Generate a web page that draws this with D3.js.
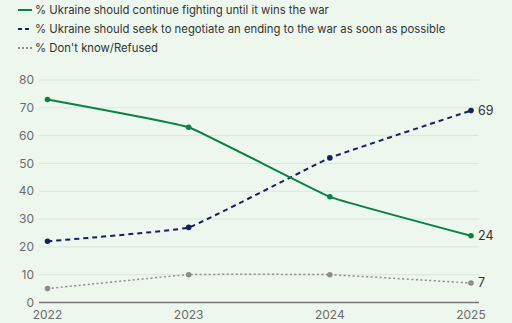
<!DOCTYPE html>
<html>
<head>
<meta charset="utf-8">
<script src="https://cdn.jsdelivr.net/npm/d3@7"></script>
<style>
  body { margin: 0; background: #edf7ee; }
  svg { display: block; font-family: Inter, "Noto Sans", sans-serif; }
</style>
</head>
<body>
<div id="chart"></div>
<script>
const years = [2022, 2023, 2024, 2025];
const continueFighting = [73, 63, 38, 24];
const negotiate = [22, 27, 52, 69];
const dontKnow = [5, 10, 10, 7];
const yTicks = [0, 10, 20, 30, 40, 50, 60, 70, 80];

const series = [
  {name: "% Ukraine should continue fighting until it wins the war", values: continueFighting, color: "#0b8145", dash: null, width: 2},
  {name: "% Ukraine should seek to negotiate an ending to the war as soon as possible", values: negotiate, color: "#15205e", dash: "5,4", width: 2},
  {name: "% Don't know/Refused", values: dontKnow, color: "#8c8c8c", dash: "2,2.5", width: 1.5}
];

const width = 512, height = 323;
const svg = d3.select("#chart")
    .append("svg")
    .attr("width", width)
    .attr("height", height);

const x = d3.scalePoint()
    .domain(years)
    .range([47.5, 471]);

const y = d3.scaleLinear()
    .domain([0, 80])
    .range([302.5, 80]);

// gridlines
svg.append("g")
    .selectAll("line")
    .data(yTicks.filter(d => d > 0))
    .join("line")
    .attr("x1", 39).attr("x2", 479)
    .attr("y1", d => y(d)).attr("y2", d => y(d))
    .attr("stroke", "#d9e5dc")
    .attr("stroke-width", 1);

// baseline
svg.append("line")
    .attr("x1", 39).attr("x2", 479)
    .attr("y1", y(0)).attr("y2", y(0))
    .attr("stroke", "#777")
    .attr("stroke-width", 1.5);

// y labels
svg.append("g")
    .selectAll("text")
    .data(yTicks)
    .join("text")
    .attr("x", 34)
    .attr("y", d => y(d))
    .attr("dy", "0.35em")
    .attr("text-anchor", "end")
    .attr("fill", "#6b6b6b")
    .style("font-size", "12px")
    .text(d => d);

// x labels
svg.append("g")
    .selectAll("text")
    .data(years)
    .join("text")
    .attr("x", d => x(d))
    .attr("y", 315)
    .attr("dy", "0.35em")
    .attr("text-anchor", "middle")
    .attr("fill", "#6b6b6b")
    .style("font-size", "12px")
    .text(d => d);

const line = d3.line()
    .x((d, i) => x(years[i]))
    .y(d => y(d))
    .curve(d3.curveCardinal.tension(0.75));

// draw back to front
series.slice().reverse().forEach(s => {
  svg.append("path")
      .datum(s.values)
      .attr("d", line)
      .attr("fill", "none")
      .attr("stroke", s.color)
      .attr("stroke-width", s.width)
      .attr("stroke-dasharray", s.dash);

  svg.append("g")
      .selectAll("circle")
      .data(s.values)
      .join("circle")
      .attr("cx", (d, i) => x(years[i]))
      .attr("cy", d => y(d))
      .attr("r", 2.8)
      .attr("fill", s.color);

  const last = s.values[s.values.length - 1];
  svg.append("text")
      .attr("x", x(years[years.length - 1]) + 7)
      .attr("y", y(last))
      .attr("dy", "0.35em")
      .attr("fill", "#333")
      .style("font-size", "12.5px")
      .text(last);
});

// legend
const legend = svg.append("g")
    .selectAll("g")
    .data(series)
    .join("g")
    .attr("transform", (d, i) => `translate(0, ${10 + i * 19})`);

legend.append("line")
    .attr("x1", 18).attr("x2", 32)
    .attr("y1", 0).attr("y2", 0)
    .attr("stroke", d => d.color)
    .attr("stroke-width", 2)
    .attr("stroke-dasharray", d => d.dash ? (d.width > 1.5 ? "4,3" : "2,2") : null);

legend.append("text")
    .attr("x", 35)
    .attr("y", 0)
    .attr("dy", "0.35em")
    .attr("fill", "#333")
    .style("font-size", "11.3px")
    .text(d => d.name);
</script>
</body>
</html>
